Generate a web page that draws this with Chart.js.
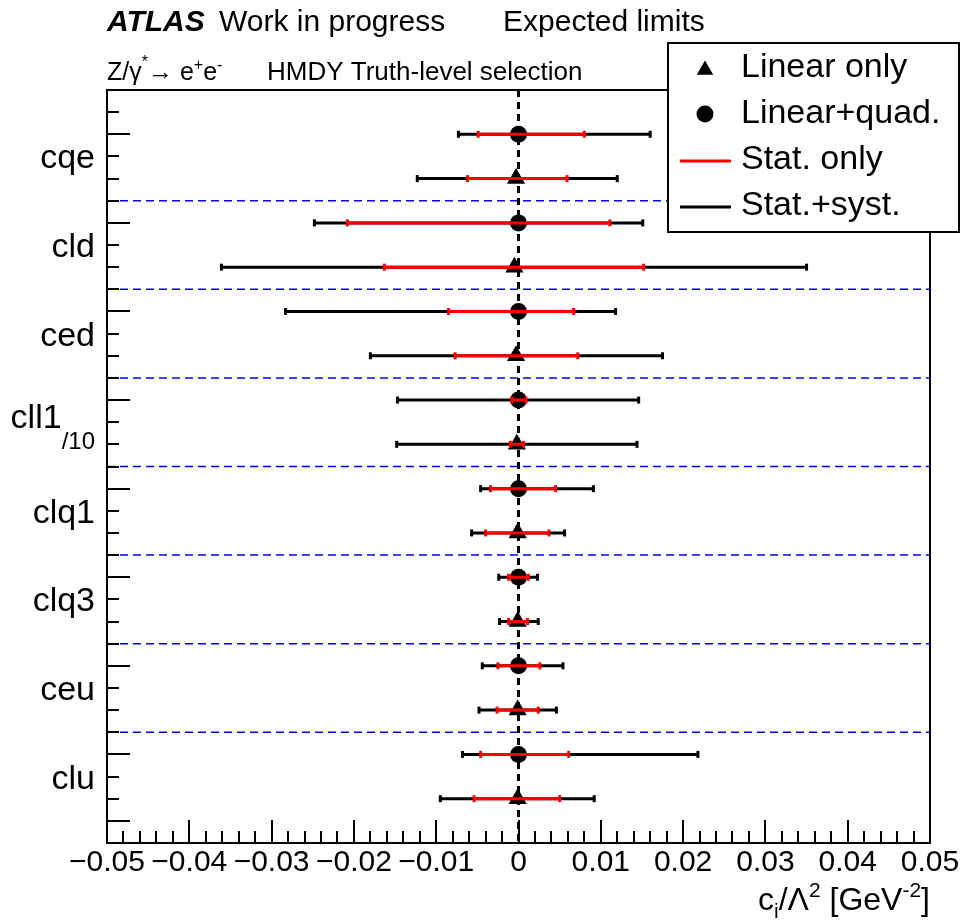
<!DOCTYPE html>
<html><head><meta charset="utf-8">
<script src="https://cdn.jsdelivr.net/npm/chart.js@4.4.1/dist/chart.umd.min.js"></script>
<style>html,body{margin:0;padding:0;background:#fff;} canvas{display:block;}</style>
</head><body>
<canvas id="c" width="963" height="924"></canvas>
<script>
// ---------------- data ----------------
const categories = ['cqe', 'cld', 'ced', 'cll1', 'clq1', 'clq3', 'ceu', 'clu'];
const categorySubscripts = ['', '', '', '/10', '', '', '', ''];
const xTickValues = [-0.05, -0.04, -0.03, -0.02, -0.01, 0, 0.01, 0.02, 0.03, 0.04, 0.05];

// Linear+quad. (circles)
const quadCentral = [0, 0, 0, 0, 0, 0, 0, 0];
const quadStatLo  = [-0.0049, -0.0208, -0.0085, -0.0008, -0.0034, -0.0012, -0.0025, -0.0046];
const quadStatHi  = [ 0.0080,  0.0111,  0.0067,  0.0009,  0.0045,  0.0012,  0.0026,  0.0061];
const quadSystLo  = [-0.0073, -0.0248, -0.0283, -0.0147, -0.0046, -0.0024, -0.0044, -0.0068];
const quadSystHi  = [ 0.0160,  0.0151,  0.0118,  0.0146,  0.0091,  0.0023,  0.0054,  0.0218];

// Linear only (triangles)
const linCentral = [-0.0003, -0.0005, -0.0003, -0.0002, -0.0001, -0.0001, -0.0001, -0.0001];
const linStatLo  = [-0.0062, -0.0163, -0.0077, -0.0010, -0.0040, -0.0012, -0.0026, -0.0054];
const linStatHi  = [ 0.0059,  0.0152,  0.0072,  0.0006,  0.0037,  0.0011,  0.0024,  0.0050];
const linSystLo  = [-0.0123, -0.0361, -0.0180, -0.0148, -0.0057, -0.0023, -0.0048, -0.0095];
const linSystHi  = [ 0.0120,  0.0350,  0.0175,  0.0144,  0.0056,  0.0024,  0.0046,  0.0092];

// ---------------- layout helpers ----------------
const FONT = '"Liberation Sans", Arial, Helvetica, sans-serif';
const X_MIN = -0.05, X_MAX = 0.05, Y_MAX = 34;
const quadRowY = i => 2 + 4 * i;
const linRowY = i => 4 + 4 * i;
const labelRowY = i => 3 + 4 * i;
const separatorYs = categories.slice(1).map((_, i) => 5 + 4 * i);

function barData(lo, hi, rowY) {
  const pts = [];
  lo.forEach((l, i) => {
    pts.push({x: l, y: rowY(i)}, {x: hi[i], y: rowY(i)}, {x: hi[i], y: null});
  });
  return pts;
}
function barStyle(color, order) {
  return {
    showLine: true, borderColor: color, borderWidth: 3, spanGaps: false,
    pointStyle: 'line', pointRotation: 90, pointRadius: 3.5, pointHoverRadius: 3.5,
    pointBorderWidth: 3, pointBorderColor: color, pointBackgroundColor: color, order
  };
}
function sepData() {
  const pts = [];
  separatorYs.forEach(v => { pts.push({x: X_MIN, y: v}, {x: X_MAX, y: v}, {x: X_MAX, y: null}); });
  return pts;
}
function fmtTick(v) {
  if (Math.abs(v) < 1e-9) return '0';
  return (v < 0 ? '\u2212' : '') + Math.abs(v).toFixed(2);
}
function drawRich(ctx, x, baseline, parts, align) {
  let total = 0;
  parts.forEach(p => { ctx.font = (p.style || '') + ' ' + p.size + 'px ' + FONT; total += ctx.measureText(p.t).width; });
  let cx = align === 'right' ? x - total : x;
  parts.forEach(p => {
    ctx.font = (p.style || '') + ' ' + p.size + 'px ' + FONT;
    ctx.fillText(p.t, cx, baseline + (p.dy || 0));
    cx += ctx.measureText(p.t).width;
  });
}
function triPath(ctx, x, y, r) {
  ctx.beginPath();
  ctx.moveTo(x, y - r);
  ctx.lineTo(x + r * Math.sin(Math.PI / 3), y + r / 2);
  ctx.lineTo(x - r * Math.sin(Math.PI / 3), y + r / 2);
  ctx.closePath();
}

const overlay = {
  id: 'overlay',
  afterDatasetsDraw(chart) {
    const {ctx, chartArea: a, scales: {x, y}} = chart;
    ctx.save();
    ctx.strokeStyle = '#000';
    ctx.lineWidth = 2;
    // y ticks (inside)
    for (let u = 1; u < Y_MAX; u++) {
      const py = Math.round(y.getPixelForValue(u));
      const major = (u % 4 === 2) || u === Y_MAX - 1;
      ctx.beginPath(); ctx.moveTo(a.left, py); ctx.lineTo(a.left + (major ? 23 : 12), py); ctx.stroke();
    }
    // x ticks (inside)
    for (let k = 1; k < 50; k++) {
      const v = X_MIN + k * 0.002;
      const px = Math.round(x.getPixelForValue(v));
      const major = k % 5 === 0;
      ctx.beginPath(); ctx.moveTo(px, a.bottom); ctx.lineTo(px, a.bottom - (major ? 23 : 12)); ctx.stroke();
    }
    // frame
    ctx.strokeRect(a.left, a.top, a.right - a.left, a.bottom - a.top);
    ctx.restore();
  },
  afterDraw(chart) {
    const {ctx, scales: {y}} = chart;
    ctx.save();
    ctx.fillStyle = '#000';
    ctx.textBaseline = 'alphabetic';
    ctx.textAlign = 'left';
    // category labels
    categories.forEach((c, i) => {
      const py = y.getPixelForValue(labelRowY(i));
      const sub = categorySubscripts[i];
      const right = 95;
      if (sub) {
        ctx.font = '24px ' + FONT;
        const sw = ctx.measureText(sub).width;
        ctx.font = '34px ' + FONT;
        const mw = ctx.measureText(c).width;
        ctx.fillText(c, right - sw - mw, py + 6);
        ctx.font = '24px ' + FONT;
        ctx.fillText(sub, right - sw, py + 27);
      } else {
        ctx.font = '34px ' + FONT;
        const mw = ctx.measureText(c).width;
        ctx.fillText(c, right - mw, py + 12);
      }
    });
    // header
    ctx.font = 'italic bold 30px ' + FONT;
    ctx.fillText('ATLAS', 107, 31);
    ctx.font = '30px ' + FONT;
    ctx.fillText('Work in progress', 219, 31);
    ctx.fillText('Expected limits', 503, 31);
    drawRich(ctx, 107, 80, [
      {t: 'Z/\u03B3', size: 25},
      {t: '*', size: 16, dy: -13},
      {t: '\u2192 e', size: 25},
      {t: '+', size: 16, dy: -10},
      {t: 'e', size: 25},
      {t: '-', size: 16, dy: -10}
    ]);
    ctx.font = '26px ' + FONT;
    ctx.fillText('HMDY Truth-level selection', 267, 80);
    // x-axis title
    drawRich(ctx, 930, 910, [
      {t: 'c', size: 32},
      {t: 'i', size: 21, dy: 8},
      {t: '/\u039B', size: 32},
      {t: '2', size: 21, dy: -13},
      {t: ' [GeV', size: 32},
      {t: '-2', size: 21, dy: -13},
      {t: ']', size: 32}
    ], 'right');
    // legend
    const L = {x: 668, y: 43, w: 291, h: 189};
    ctx.fillStyle = '#fff';
    ctx.fillRect(L.x, L.y, L.w, L.h);
    ctx.strokeStyle = '#000';
    ctx.lineWidth = 2;
    ctx.strokeRect(L.x, L.y, L.w, L.h);
    ctx.fillStyle = '#000';
    triPath(ctx, 705, 70, 9.5); ctx.fill();
    ctx.beginPath(); ctx.arc(705, 114, 8.5, 0, Math.PI * 2); ctx.fill();
    ctx.lineWidth = 3;
    ctx.strokeStyle = '#ff0000';
    ctx.beginPath(); ctx.moveTo(680, 161); ctx.lineTo(731, 161); ctx.stroke();
    ctx.strokeStyle = '#000';
    ctx.beginPath(); ctx.moveTo(680, 207); ctx.lineTo(731, 207); ctx.stroke();
    ctx.font = '34px ' + FONT;
    ctx.fillText('Linear only', 741, 77);
    ctx.fillText('Linear+quad.', 741, 123);
    ctx.fillText('Stat. only', 741, 169);
    ctx.fillText('Stat.+syst.', 741, 215);
    ctx.restore();
  }
};

new Chart(document.getElementById('c'), {
  type: 'scatter',
  data: {
    datasets: [
      Object.assign({label: 'Stat. only (lin+quad)', data: barData(quadStatLo, quadStatHi, quadRowY)}, barStyle('#ff0000', 0)),
      Object.assign({label: 'Stat. only (lin)', data: barData(linStatLo, linStatHi, linRowY)}, barStyle('#ff0000', 0)),
      Object.assign({label: 'Stat.+syst. (lin+quad)', data: barData(quadSystLo, quadSystHi, quadRowY)}, barStyle('#000000', 1)),
      Object.assign({label: 'Stat.+syst. (lin)', data: barData(linSystLo, linSystHi, linRowY)}, barStyle('#000000', 1)),
      {label: 'Linear+quad.', data: quadCentral.map((v, i) => ({x: v, y: quadRowY(i)})),
       pointStyle: 'circle', pointRadius: 8.5, pointHoverRadius: 8.5, pointBackgroundColor: '#000', pointBorderColor: '#000', pointBorderWidth: 0, order: 2},
      {label: 'Linear only', data: linCentral.map((v, i) => ({x: v, y: linRowY(i)})),
       pointStyle: 'triangle', pointRadius: 10.5, pointHoverRadius: 10.5, pointBackgroundColor: '#000', pointBorderColor: '#000', pointBorderWidth: 0, order: 2},
      {label: 'zero', data: [{x: 0, y: 0}, {x: 0, y: Y_MAX}], showLine: true, borderColor: '#000', borderWidth: 3,
       borderDash: [7, 5], pointRadius: 0, pointHoverRadius: 0, order: 3},
      {label: 'separators', data: sepData(), showLine: true, spanGaps: false, borderColor: '#0000ff', borderWidth: 1.5,
       borderDash: [8, 5], pointRadius: 0, pointHoverRadius: 0, order: 4}
    ]
  },
  options: {
    responsive: false,
    animation: false,
    devicePixelRatio: 1,
    events: [],
    layout: {padding: {left: 107, top: 90, right: 33, bottom: 0}},
    plugins: {legend: {display: false}, tooltip: {enabled: false}},
    scales: {
      x: {
        type: 'linear', min: X_MIN, max: X_MAX,
        grid: {display: false, drawTicks: false},
        border: {display: false},
        afterBuildTicks: s => { s.ticks = xTickValues.map(v => ({value: v})); },
        afterFit: s => { s.height = 81; },
        ticks: {padding: 2, color: '#000', font: {family: FONT, size: 30}, maxRotation: 0, autoSkip: false,
                callback: v => fmtTick(v)}
      },
      y: {type: 'linear', min: 0, max: Y_MAX, reverse: true, display: false}
    }
  },
  plugins: [overlay]
});
</script>
</body></html>
